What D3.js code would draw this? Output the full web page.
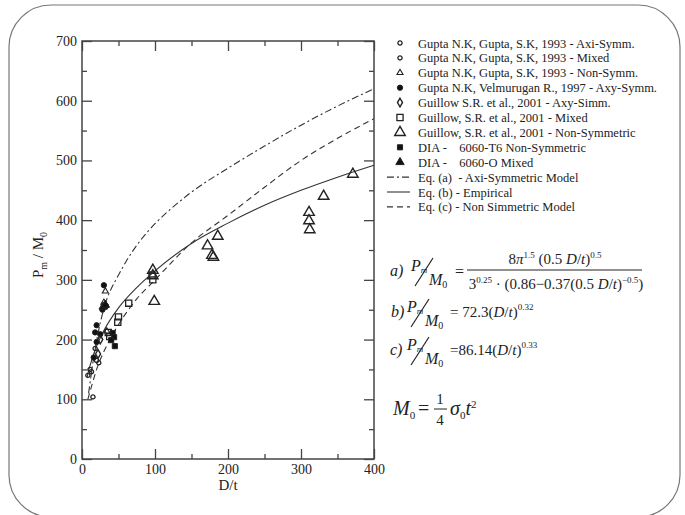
<!DOCTYPE html>
<html>
<head>
<meta charset="utf-8">
<script src="https://cdn.jsdelivr.net/npm/d3@7"></script>
<style>
  body { margin:0; background:#fff; }
  svg, svg text { font-family:"Liberation Serif","Tinos","Times New Roman",Times,"DejaVu Serif","Noto Serif",serif; }
  svg text { fill:#222; }
</style>
</head>
<body>
<div class="chart-sec"></div>
<script>
// values: [D/t, Pm/M0]
var gupta93Axi   = [[15,104],[13,146],[20,165],[23,161]];
var gupta93Mixed = [[8,140],[18,185],[11,150]];
var gupta93Non   = [[32,281],[34,214],[30,262]];
var gupta97Axi   = [[30,291],[28,250],[30,254],[33,256],[20,224],[18,212],[20,196],[16,170],[25,209]];
var guillowAxi   = [[22,176],[25,200]];
var guillowMixed = [[64,261],[50,238],[49,229],[36,212],[38,205],[97,300],[96,308]];
var guillowNon   = [[97,316],[97,307],[99,264],[172,357],[186,373],[180,338],[178,341],[311,413],[311,399],[312,384],[331,440],[371,477]];
var diaT6        = [[42,211],[44,204],[40,199],[45,189]];
var diaO         = [[29,255],[32,258]];

// curves
var eqA = [[9,110],[12,136],[15,162],[20,198],[25,228],[30,252],[35,271],[40,285],[50,308],[60,330],[80,366],[100,394],[120,417],[150,447],[200,487],[250,524],[300,559],[350,591],[400,620]];
var eqB = [[7,137],[10,152],[15,172],[20,189],[30,215],[50,253],[75,287],[100,315],[150,361],[200,395],[250,425],[300,450],[350,472],[400,492]];
var eqC = [[8,100],[15,130],[20,150],[30,180],[50,225],[75,268],[100,300],[150,362],[200,408],[250,455],[300,500],[350,537],[400,570]];

var xTicks = [0,100,200,300,400];
var yTicks = [0,100,200,300,400,500,600,700];

var legendLabels = [
  'Gupta N.K, Gupta, S.K, 1993 - Axi-Symm.',
  'Gupta N.K, Gupta, S.K, 1993 - Mixed',
  'Gupta N.K, Gupta, S.K, 1993 - Non-Symm.',
  'Gupta N.K, Velmurugan R., 1997 - Axy-Symm.',
  'Guillow S.R. et al., 2001 - Axy-Simm.',
  'Guillow, S.R. et al., 2001 - Mixed',
  'Guillow, S.R. et al., 2001 - Non-Symmetric',
  'DIA -    6060-T6 Non-Symmetric',
  'DIA -    6060-O Mixed',
  'Eq. (a)  - Axi-Symmetric Model',
  'Eq. (b) - Empirical',
  'Eq. (c) - Non Simmetric Model'
];

(function(){
  'use strict';

  var serif = '"Liberation Serif","Tinos","Times New Roman",Times,"DejaVu Serif","Noto Serif",serif';

  var svg = d3.select('.chart-sec').append('svg')
    .attr('width',685).attr('height',515)
    .attr('font-family', serif);

  // slide frame
  svg.append('rect')
    .attr('x',9).attr('y',5).attr('width',671).attr('height',512)
    .attr('rx',42).attr('ry',42)
    .attr('fill','none').attr('stroke','#777').attr('stroke-width',1.2);

  var x = d3.scaleLinear().domain([0,400]).range([82,374]);
  var y = d3.scaleLinear().domain([0,700]).range([459,41]);

  var axisColor = '#444';

  function drawAxis(axis, tx, ty, labels){
    var g = svg.append('g').attr('transform','translate('+tx+','+ty+')').call(axis);
    g.attr('font-family', serif);
    g.select('.domain').remove();
    g.selectAll('line').attr('stroke',axisColor).attr('stroke-width',1.3);
    if(!labels) g.selectAll('text').remove();
    else g.selectAll('text').style('font-size','14px').style('font-family',serif).attr('fill','#222');
    return g;
  }

  // major and minor ticks, pointing inward on all four sides
  drawAxis(d3.axisBottom(x).tickValues(xTicks).tickSize(-10).tickPadding(5), 0, 459, true);
  drawAxis(d3.axisBottom(x).tickValues([50,150,250,350]).tickSize(-5), 0, 459, false);
  drawAxis(d3.axisTop(x).tickValues(xTicks).tickSize(-10), 0, 41, false);
  drawAxis(d3.axisTop(x).tickValues([50,150,250,350]).tickSize(-5), 0, 41, false);
  drawAxis(d3.axisLeft(y).tickValues(yTicks).tickSize(-10).tickPadding(5), 82, 0, true);
  drawAxis(d3.axisLeft(y).tickValues([50,150,250,350,450,550,650]).tickSize(-5), 82, 0, false);
  drawAxis(d3.axisRight(y).tickValues(yTicks).tickSize(-10), 374, 0, false);
  drawAxis(d3.axisRight(y).tickValues([50,150,250,350,450,550,650]).tickSize(-5), 374, 0, false);

  svg.append('rect')
    .attr('x',x(0)).attr('y',y(700)).attr('width',x(400)-x(0)).attr('height',y(0)-y(700))
    .attr('fill','none').attr('stroke',axisColor).attr('stroke-width',1.5);

  // axis titles
  svg.append('text').attr('x',228).attr('y',490).attr('text-anchor','middle')
    .style('font-size','15px').style('font-family',serif).text('D/t');

  var yl = svg.append('text').attr('transform','translate(43,255) rotate(-90)')
    .attr('text-anchor','middle').style('font-size','15px').style('font-family',serif);
  yl.append('tspan').text('P');
  yl.append('tspan').attr('dy',4).style('font-size','10px').text('m');
  yl.append('tspan').attr('dy',-4).text(' / M');
  yl.append('tspan').attr('dy',4).style('font-size','10px').text('0');

  // curves
  var line = d3.line().x(function(d){ return x(d[0]); }).y(function(d){ return y(d[1]); })
    .curve(d3.curveMonotoneX);

  var curves = [
    {data:eqA, dash:'7,3,2,3'},
    {data:eqB, dash:null},
    {data:eqC, dash:'6,4'}
  ];
  curves.forEach(function(c){
    svg.append('path').datum(c.data).attr('d',line)
      .attr('fill','none').attr('stroke','#333').attr('stroke-width',1.1)
      .attr('stroke-dasharray',c.dash);
  });

  // marker styles
  var styles = [
    {type:d3.symbolCircle,   size:14, fill:'none', sw:1.3},
    {type:d3.symbolCircle,   size:14, fill:'none', sw:1.3},
    {type:d3.symbolTriangle, size:16, fill:'none', sw:1.1},
    {type:d3.symbolCircle,   size:22, fill:'#111', sw:1},
    {type:d3.symbolDiamond,  size:22, fill:'none', sw:1.4},
    {type:d3.symbolSquare,   size:38, fill:'none', sw:1.3},
    {type:d3.symbolTriangle, size:48, fill:'none', sw:1.4},
    {type:d3.symbolSquare,   size:26, fill:'#111', sw:1},
    {type:d3.symbolTriangle, size:30, fill:'#111', sw:1}
  ];
  var seriesData = [gupta93Axi,gupta93Mixed,gupta93Non,gupta97Axi,guillowAxi,guillowMixed,guillowNon,diaT6,diaO];

  function marker(sel, st){
    sel.attr('d', d3.symbol().type(st.type).size(st.size))
      .attr('fill', st.fill).attr('stroke','#222').attr('stroke-width',st.sw);
  }

  seriesData.forEach(function(data,i){
    svg.append('g').selectAll('path').data(data).enter().append('path')
      .attr('transform',function(d){ return 'translate('+x(d[0])+','+y(d[1])+')'; })
      .call(marker, styles[i]);
  });

  // legend
  var lg = svg.append('g');
  legendLabels.forEach(function(label,i){
    var ly = 43 + i*14.9;
    if(i < 9){
      lg.append('path').attr('transform','translate(400,'+ly+')').call(marker, styles[i]);
    } else {
      lg.append('line').attr('x1',387).attr('x2',410).attr('y1',ly).attr('y2',ly)
        .attr('stroke','#333').attr('stroke-width',1.1)
        .attr('stroke-dasharray', curves[i-9].dash);
    }
    lg.append('text').attr('x',418).attr('y',ly+4.5)
      .style('font-size','12.5px').style('font-family',serif).style('white-space','pre')
      .attr('fill', i==7||i==8 ? '#444' : '#111')
      .text(label);
  });

  // formulas
  function pm(px, yc){
    var t1 = svg.append('text').attr('x',px).attr('y',yc+1).style('font-size','16px')
      .style('font-family',serif).style('font-style','italic');
    t1.append('tspan').text('P');
    t1.append('tspan').attr('dy',2).style('font-size','9px').text('m');
    svg.append('line').attr('x1',px+4).attr('y1',yc+16).attr('x2',px+22).attr('y2',yc-12)
      .attr('stroke','#222').attr('stroke-width',1.2);
    var t2 = svg.append('text').attr('x',px+18).attr('y',yc+15).style('font-size','16px')
      .style('font-family',serif).style('font-style','italic');
    t2.append('tspan').text('M');
    t2.append('tspan').attr('dy',3).style('font-size','10px').style('font-style','normal').text('0');
  }

  function txt(tx, ty, size, parts, anchor){
    var t = svg.append('text').attr('x',tx).attr('y',ty).style('font-size',size+'px')
      .style('font-family',serif).attr('text-anchor',anchor||'start');
    parts.forEach(function(p){
      var s = t.append('tspan').text(p[0]);
      if(p[1]) s.attr('dy',p[1]);
      if(p[2]) s.style('font-size',p[2]+'px');
      if(p[3]) s.style('font-style','italic');
    });
    return t;
  }

  // a)
  txt(390, 276, 16, [['a)',0,0,1]]);
  pm(411, 270);
  txt(455, 277, 16, [['=']]);
  svg.append('line').attr('x1',467).attr('x2',642).attr('y1',270).attr('y2',270)
    .attr('stroke','#222').attr('stroke-width',1);
  txt(555, 264, 15, [['8'],['π',0,0,1],['1.5',-6,9],[' (0.5 ',6],['D',0,0,1],['/'],['t',0,0,1],[')'],['0.5',-6,9]], 'middle');
  txt(556, 289, 15, [['3'],['0.25',-6,9],[' · (0.86−0.37(0.5 ',6],['D',0,0,1],['/'],['t',0,0,1],[')'],['−0.5',-6,9],[')',6]], 'middle');

  // b)
  txt(391, 317, 16, [['b)',0,0,1]]);
  pm(407, 311);
  txt(450, 317, 15, [['= 72.3('],['D',0,0,1],['/'],['t',0,0,1],[')'],['0.32',-7,9]]);

  // c)
  txt(390, 355, 16, [['c)',0,0,1]]);
  pm(407, 349);
  txt(450, 355, 15, [['=86.14('],['D',0,0,1],['/'],['t',0,0,1],[')'],['0.33',-7,9]]);

  // M0
  txt(393, 415, 20, [['M',0,0,1],['0',4,11]]);
  txt(418, 415, 20, [['=']]);
  txt(440, 404, 15, [['1']], 'middle');
  svg.append('line').attr('x1',434).attr('x2',447).attr('y1',409).attr('y2',409)
    .attr('stroke','#222').attr('stroke-width',1);
  txt(440, 425, 15, [['4']], 'middle');
  txt(450, 415, 20, [['σ',0,0,1],['0',4,11],['t',-4,0,1],['2',-7,11]]);

})();
</script>
</body>
</html>
